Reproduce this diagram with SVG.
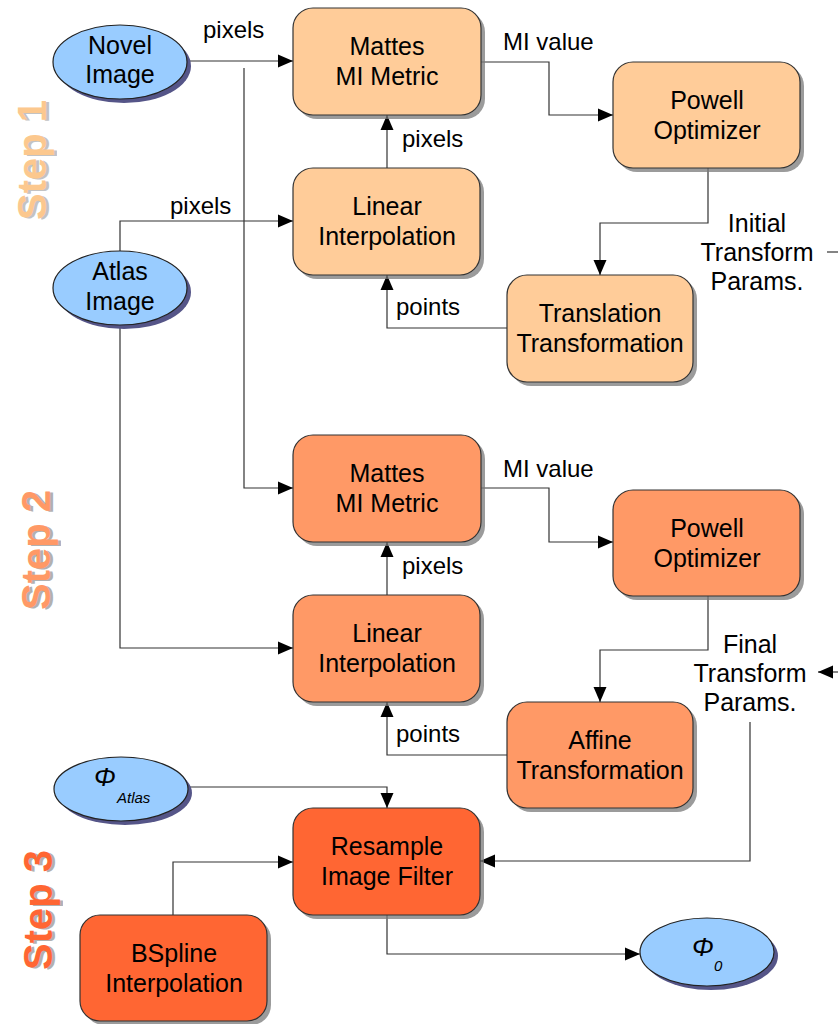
<svg xmlns="http://www.w3.org/2000/svg" width="838" height="1024" viewBox="0 0 838 1024">
<defs>
<marker id="arr" markerUnits="userSpaceOnUse" markerWidth="16" markerHeight="14" refX="15" refY="7" orient="auto">
<path d="M0,0.5 L15,7 L0,13.5 z" fill="#000"/>
</marker>
<style>
.t{font-family:"Liberation Sans",Arial,sans-serif;font-size:25px;fill:#000;text-anchor:middle}
.lb{font-family:"Liberation Sans",Arial,sans-serif;font-size:24px;fill:#000}
.box{stroke:#333;stroke-width:1.2}
.s1{fill:#ffcc99}.s2{fill:#ff9966}.s3{fill:#ff6633}
.sh{fill:#7a7a7a;opacity:0.75}
.el{fill:#99ccff;stroke:#222;stroke-width:1.2}
.esh{fill:#555588}
.con{fill:none;stroke:#333;stroke-width:1.2}
.step{font-family:"Liberation Sans",Arial,sans-serif;font-size:40px;font-weight:bold;text-anchor:middle}
.ph{font-family:"Liberation Sans",Arial,sans-serif;font-style:italic;font-size:26px}
.sub{font-family:"Liberation Sans",Arial,sans-serif;font-style:italic;font-size:15px}
</style>
</defs>
<rect width="838" height="1024" fill="#fff"/>

<g id="steps">
<text class="step" transform="translate(47,162) rotate(-90)" fill="#888" opacity="0.5" dx="1" dy="2">Step 1</text>
<text class="step" transform="translate(46,160) rotate(-90)" fill="#fcc88e">Step 1</text>
<text class="step" transform="translate(51,552) rotate(-90)" fill="#666" opacity="0.5" dx="1" dy="2">Step 2</text>
<text class="step" transform="translate(50,550) rotate(-90)" fill="#ff9966">Step 2</text>
<text class="step" transform="translate(53,912) rotate(-90)" fill="#666" opacity="0.5" dx="1" dy="2">Step 3</text>
<text class="step" transform="translate(52,910) rotate(-90)" fill="#ff6633">Step 3</text>
</g>

<g id="connectors">
<path class="con" d="M187,61 H293" marker-end="url(#arr)"/>
<path class="con" d="M244,68 V488 H293" marker-end="url(#arr)"/>
<path class="con" d="M120,252 V221 H293" marker-end="url(#arr)"/>
<path class="con" d="M120,325 V648 H293" marker-end="url(#arr)"/>
<path class="con" d="M387,168 V115" marker-end="url(#arr)"/>
<path class="con" d="M481,62 H549 V115 H613" marker-end="url(#arr)"/>
<path class="con" d="M708,168 V223 H600 V275" marker-end="url(#arr)"/>
<path class="con" d="M507,328 H387 V275" marker-end="url(#arr)"/>
<path class="con" d="M827,252 H838"/>
<path class="con" d="M481,488 H549 V542 H613" marker-end="url(#arr)"/>
<path class="con" d="M387,595 V542" marker-end="url(#arr)"/>
<path class="con" d="M708,596 V650 H600 V702" marker-end="url(#arr)"/>
<path class="con" d="M507,755 H387 V702" marker-end="url(#arr)"/>
<path class="con" d="M838,672 H818" marker-end="url(#arr)"/>
<path class="con" d="M750,722 V861 H480" marker-end="url(#arr)"/>
<path class="con" d="M188,787 H387 V808" marker-end="url(#arr)"/>
<path class="con" d="M173,915 V862 H293" marker-end="url(#arr)"/>
<path class="con" d="M387,915 V954 H640" marker-end="url(#arr)"/>
</g>

<g id="labels">
<text class="lb" x="203" y="38">pixels</text>
<text class="lb" x="170" y="214">pixels</text>
<text class="lb" x="402" y="147">pixels</text>
<text class="lb" x="503" y="50">MI value</text>
<text class="lb" x="396" y="315">points</text>
<text class="t" x="757" y="232">Initial</text>
<text class="t" x="757" y="261">Transform</text>
<text class="t" x="757" y="290">Params.</text>
<text class="lb" x="402" y="574">pixels</text>
<text class="lb" x="503" y="477">MI value</text>
<text class="lb" x="396" y="742">points</text>
<text class="t" x="750" y="653">Final</text>
<text class="t" x="750" y="682">Transform</text>
<text class="t" x="750" y="711">Params.</text>
</g>

<g id="novel">
<ellipse class="esh" cx="124" cy="66" rx="67" ry="37"/>
<ellipse class="el" cx="120" cy="62" rx="67" ry="37"/>
<text class="t" x="120" y="54">Novel</text>
<text class="t" x="120" y="83">Image</text>
</g>
<g id="atlas">
<ellipse class="esh" cx="124" cy="292" rx="67" ry="37"/>
<ellipse class="el" cx="120" cy="288" rx="67" ry="37"/>
<text class="t" x="120" y="280">Atlas</text>
<text class="t" x="120" y="310">Image</text>
</g>
<g id="phiatlas">
<ellipse class="esh" cx="125" cy="793" rx="67" ry="32"/>
<ellipse class="el" cx="121" cy="789" rx="67" ry="32"/>
<text class="ph" x="94" y="786">Φ</text>
<text class="sub" x="117" y="803">Atlas</text>
</g>
<g id="phi0">
<ellipse class="esh" cx="711" cy="956" rx="67" ry="34"/>
<ellipse class="el" cx="707" cy="952" rx="67" ry="34"/>
<text class="ph" x="692" y="956">Φ</text>
<text class="sub" x="714" y="971">0</text>
</g>

<g id="mattes1">
<rect class="sh" x="297" y="12" width="188" height="107" rx="20"/>
<rect class="box s1" x="293" y="8" width="188" height="107" rx="20"/>
<text class="t" x="387" y="55">Mattes</text>
<text class="t" x="387" y="85">MI Metric</text>
</g>
<g id="powell1">
<rect class="sh" x="617" y="66" width="187" height="106" rx="20"/>
<rect class="box s1" x="613" y="62" width="187" height="106" rx="20"/>
<text class="t" x="707" y="109">Powell</text>
<text class="t" x="707" y="139">Optimizer</text>
</g>
<g id="linear1">
<rect class="sh" x="297" y="172" width="187" height="107" rx="20"/>
<rect class="box s1" x="293" y="168" width="187" height="107" rx="20"/>
<text class="t" x="387" y="215">Linear</text>
<text class="t" x="387" y="245">Interpolation</text>
</g>
<g id="translation">
<rect class="sh" x="511" y="279" width="186" height="107" rx="20"/>
<rect class="box s1" x="507" y="275" width="186" height="107" rx="20"/>
<text class="t" x="600" y="322">Translation</text>
<text class="t" x="600" y="352">Transformation</text>
</g>

<g id="mattes2">
<rect class="sh" x="297" y="439" width="188" height="107" rx="20"/>
<rect class="box s2" x="293" y="435" width="188" height="107" rx="20"/>
<text class="t" x="387" y="482">Mattes</text>
<text class="t" x="387" y="512">MI Metric</text>
</g>
<g id="powell2">
<rect class="sh" x="617" y="494" width="187" height="106" rx="20"/>
<rect class="box s2" x="613" y="490" width="187" height="106" rx="20"/>
<text class="t" x="707" y="537">Powell</text>
<text class="t" x="707" y="567">Optimizer</text>
</g>
<g id="linear2">
<rect class="sh" x="297" y="599" width="187" height="107" rx="20"/>
<rect class="box s2" x="293" y="595" width="187" height="107" rx="20"/>
<text class="t" x="387" y="642">Linear</text>
<text class="t" x="387" y="672">Interpolation</text>
</g>
<g id="affine">
<rect class="sh" x="511" y="706" width="186" height="106" rx="20"/>
<rect class="box s2" x="507" y="702" width="186" height="106" rx="20"/>
<text class="t" x="600" y="749">Affine</text>
<text class="t" x="600" y="779">Transformation</text>
</g>

<g id="resample">
<rect class="sh" x="297" y="812" width="187" height="107" rx="20"/>
<rect class="box s3" x="293" y="808" width="187" height="107" rx="20"/>
<text class="t" x="387" y="855">Resample</text>
<text class="t" x="387" y="885">Image Filter</text>
</g>
<g id="bspline">
<rect class="sh" x="84" y="919" width="187" height="106" rx="20"/>
<rect class="box s3" x="80" y="915" width="187" height="106" rx="20"/>
<text class="t" x="174" y="962">BSpline</text>
<text class="t" x="174" y="992">Interpolation</text>
</g>
</svg>
